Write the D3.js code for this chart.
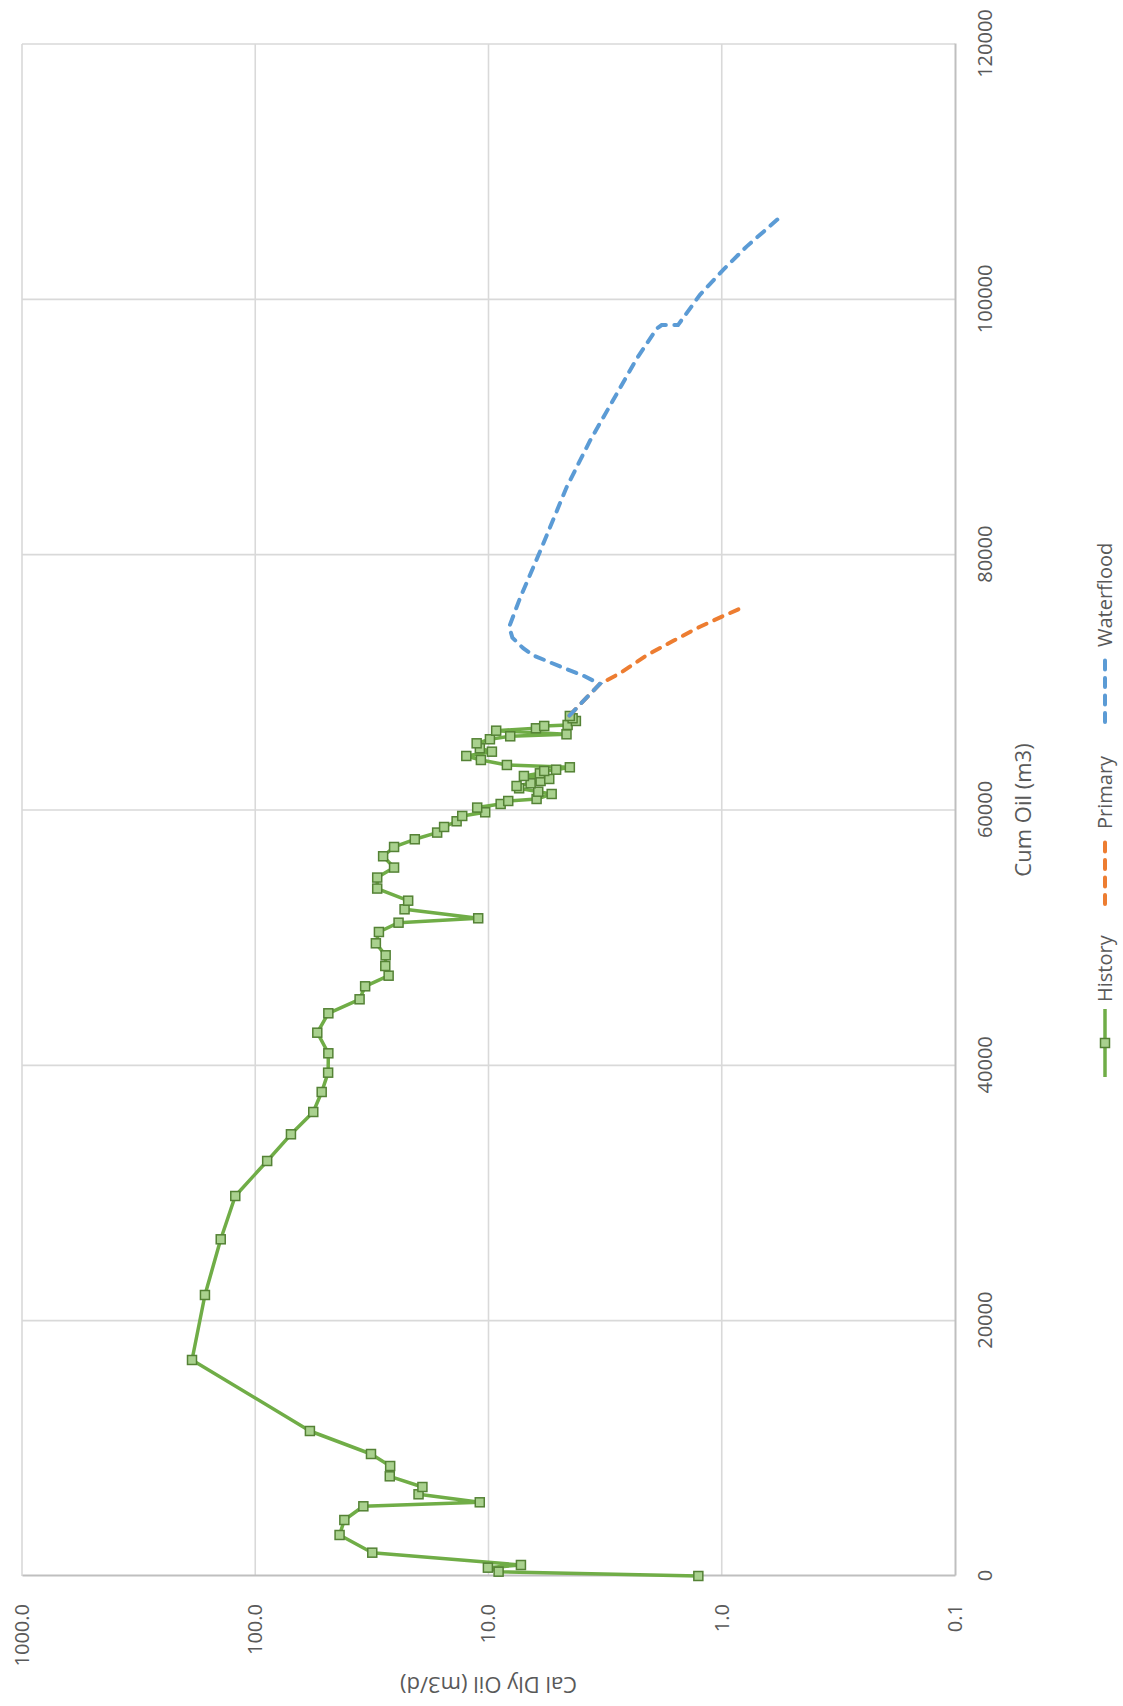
<!DOCTYPE html>
<html>
<head>
<meta charset="utf-8">
<script src="https://d3js.org/d3.v7.min.js"></script>
<style>
  body { margin: 0; background: #fff; }
  text { font-family: "Open Sans", "Noto Sans", sans-serif; fill: #595959; }
</style>
</head>
<body>
<svg id="chart" width="1123" height="1706"></svg>
<script>
// values
var cumTicks = [0, 20000, 40000, 60000, 80000, 100000, 120000];
var rateTicks = [1000, 100, 10, 1, 0.1];
var seriesNames = ["History", "Primary", "Waterflood"];

var historyCum = [0, 339, 653, 862, 1827, 3212, 4386, 5460, 5773, 6400, 6971, 7809, 8616, 9556,
  11358, 16920, 22011, 26373, 29765, 32507, 34598, 36345, 37912, 39425, 40943, 42557, 44076,
  45172, 46190, 47022, 47781, 48619, 49559, 50445, 51173, 51518, 52222, 52897, 53847, 54708,
  55491, 56376, 57104, 57707, 58232, 58670, 59117, 59532, 59821, 60189, 60471, 60706, 60863,
  61254, 61434, 61700, 61880, 62090, 62272, 62430, 62664, 62874, 63056, 63158, 63345, 63526,
  63917, 64231, 64568, 64834, 65224, 65540, 65773, 65930, 66213, 66400, 66583, 66660, 66973,
  67184, 67365];
var historyRate = [1.26, 9.05, 10.06, 7.26, 31.5, 43.5, 41.5, 34.4, 10.9, 19.95, 19.2, 26.5, 26.4, 31.9,
  58.3, 186.7, 164.3, 140.6, 121.8, 88.9, 70.3, 56.4, 51.9, 48.7, 48.6, 54.2, 48.6,
  35.7, 33.8, 26.8, 27.7, 27.6, 30.4, 29.5, 24.3, 11.07, 22.9, 22.1, 30.0, 30.0,
  25.4, 28.3, 25.4, 20.7, 16.6, 15.5, 13.7, 12.96, 10.33, 11.18, 8.87, 8.23, 6.22,
  5.36, 6.12, 7.39, 7.58, 6.6, 5.98, 5.49, 7.05, 6.02, 5.77, 5.13, 4.48, 8.34,
  10.78, 12.45, 9.67, 10.89, 11.24, 9.86, 8.07, 4.63, 9.27, 6.26, 5.77, 4.58, 4.22,
  4.36, 4.48];

var primaryCum = [67400, 69875, 70713, 72114, 73234, 74354, 75192, 75943];
var primaryRate = [4.5, 3.33, 2.73, 2.10, 1.62, 1.24, 0.986, 0.796];

var waterCum = [67400, 69875, 70500, 71136, 72114, 72670, 73500, 74352, 76585, 80226, 85261,
  88894, 92112, 95322, 97703, 97985, 97985, 100357, 102315, 104131, 106652];
var waterRate = [4.5, 3.33, 3.9, 4.78, 6.43, 7.1, 7.9, 8.15, 7.33, 6.02, 4.63,
  3.68, 2.92, 2.32, 1.90, 1.81, 1.54, 1.24, 0.986, 0.783, 0.545];

var chartWidth = 1706;
var plotLeft = 130, plotRight = 1662, plotTop = 22, plotBottom = 955;

var x = d3.scaleLinear().domain([0, 120000]).range([plotLeft, plotRight]);
var y = d3.scaleLog().domain([0.1, 1000]).range([plotBottom, plotTop]);

var svg = d3.select("#chart");
svg.append("rect")
  .attr("width", 1123)
  .attr("height", 1706)
  .attr("fill", "#fff");

// the whole chart is drawn the normal way, then turned a quarter left
var view = svg.append("g")
  .attr("transform", "translate(0," + chartWidth + ") rotate(-90)");

drawGrid();
drawAxes();
drawSeries();
drawLegend();

function drawGrid(){
  view.append("g").selectAll("line")
    .data(cumTicks.filter(function(d){ return d > 0; }))
    .enter().append("line")
      .attr("x1", function(d){ return x(d); })
      .attr("x2", function(d){ return x(d); })
      .attr("y1", plotTop)
      .attr("y2", plotBottom)
      .attr("stroke", "#d9d9d9")
      .attr("stroke-width", 1.6);

  view.append("g").selectAll("line")
    .data(rateTicks.filter(function(d){ return d > 0.1; }))
    .enter().append("line")
      .attr("x1", plotLeft)
      .attr("x2", plotRight)
      .attr("y1", function(d){ return y(d); })
      .attr("y2", function(d){ return y(d); })
      .attr("stroke", "#d9d9d9")
      .attr("stroke-width", 1.6);
}

function drawAxes(){
  var xAxis = view.append("g")
    .attr("transform", "translate(0," + plotBottom + ")")
    .call(d3.axisBottom(x).tickValues(cumTicks).tickSize(0).tickPadding(23)
      .tickFormat(d3.format("d")));
  xAxis.select(".domain")
    .attr("stroke", "#bfbfbf")
    .attr("stroke-width", 2);
  xAxis.selectAll("text")
    .style("font-size", "20px")
    .attr("fill", "#595959");

  var yAxis = view.append("g")
    .attr("transform", "translate(" + plotLeft + ",0)")
    .call(d3.axisLeft(y).tickValues(rateTicks).tickSize(0).tickPadding(28)
      .tickFormat(d3.format(".1f")));
  yAxis.select(".domain")
    .attr("stroke", "#bfbfbf")
    .attr("stroke-width", 2);
  yAxis.selectAll("text")
    .style("font-size", "20px")
    .attr("fill", "#595959");

  view.append("text")
    .attr("x", (plotLeft + plotRight) / 2)
    .attr("y", 1023)
    .attr("dy", "0.35em")
    .style("text-anchor", "middle")
    .style("font-size", "22px")
    .text("Cum Oil (m3)");

  view.append("text")
    .attr("transform", "translate(21," + (plotTop + plotBottom) / 2 + ") rotate(-90)")
    .attr("dy", "0.35em")
    .style("text-anchor", "middle")
    .style("font-size", "22px")
    .text("Cal Dly Oil (m3/d)");
}

function drawSeries(){
  var line = d3.line()
    .x(function(d){ return x(d[0]); })
    .y(function(d){ return y(d[1]); });

  var history = d3.zip(historyCum, historyRate);
  view.append("path")
    .datum(history)
    .attr("d", line)
    .attr("fill", "none")
    .attr("stroke", "#70ad47")
    .attr("stroke-width", 3.5)
    .attr("stroke-linejoin", "round");
  view.append("g").selectAll("rect")
    .data(history)
    .enter().append("rect")
      .attr("x", function(d){ return x(d[0]) - 4.5; })
      .attr("y", function(d){ return y(d[1]) - 4.5; })
      .attr("width", 9)
      .attr("height", 9)
      .attr("fill", "#a9d18e")
      .attr("stroke", "#548235")
      .attr("stroke-width", 1.5);

  view.append("path")
    .datum(d3.zip(primaryCum, primaryRate))
    .attr("d", line)
    .attr("fill", "none")
    .attr("stroke", "#ed7d31")
    .attr("stroke-width", 4)
    .attr("stroke-linecap", "round")
    .attr("stroke-dasharray", "9,8.5");

  view.append("path")
    .datum(d3.zip(waterCum, waterRate))
    .attr("d", line)
    .attr("fill", "none")
    .attr("stroke", "#5b9bd5")
    .attr("stroke-width", 4)
    .attr("stroke-linecap", "round")
    .attr("stroke-dasharray", "9,8.5");
}

function drawLegend(){
  var legendY = 1105;
  var lineStart = [629, 802, 984];
  var colors = ["#70ad47", "#ed7d31", "#5b9bd5"];

  seriesNames.forEach(function(name, i){
    var item = view.append("g");
    item.append("line")
      .attr("x1", lineStart[i])
      .attr("x2", lineStart[i] + 68)
      .attr("y1", legendY)
      .attr("y2", legendY)
      .attr("stroke", colors[i])
      .attr("stroke-width", i == 0 ? 3.5 : 4)
      .attr("stroke-linecap", i == 0 ? "butt" : "round")
      .attr("stroke-dasharray", i == 0 ? null : "9,8.5");
    if(i == 0){
      item.append("rect")
        .attr("x", lineStart[i] + 34 - 4.5)
        .attr("y", legendY - 4.5)
        .attr("width", 9)
        .attr("height", 9)
        .attr("fill", "#a9d18e")
        .attr("stroke", "#548235")
        .attr("stroke-width", 1.5);
    }
    item.append("text")
      .attr("x", lineStart[i] + 75)
      .attr("y", legendY)
      .attr("dy", "0.35em")
      .style("font-size", "20px")
      .text(name);
  });
}
</script>
</body>
</html>
